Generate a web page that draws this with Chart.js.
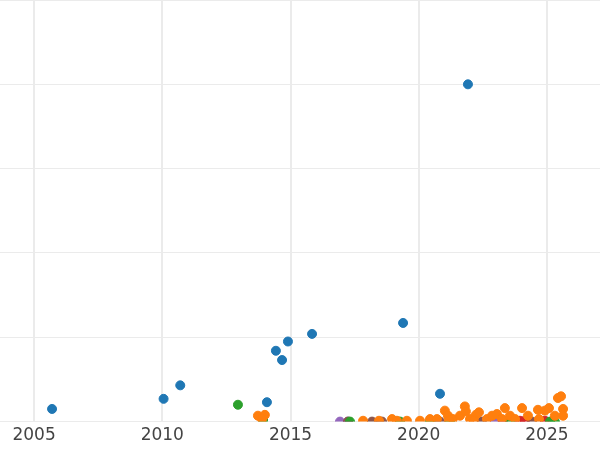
<!DOCTYPE html>
<html><head><meta charset="utf-8">
<script src="https://cdn.jsdelivr.net/npm/chart.js@4"></script>
<style>html,body{margin:0;padding:0;background:#fff}#wrap{width:600px;height:450px}</style>
</head><body><div id="wrap"><canvas id="c"></canvas></div>
<script>
// values: [year, y]
const blueSeries=[[2005.7,0.15],[2010.05,0.27],[2010.7,0.43],[2014.08,0.23],[2014.43,0.84],[2014.67,0.73],[2014.9,0.95],[2015.84,1.04],[2019.39,1.17],[2020.83,0.33],[2021.92,4.0]];
const orangeSeries=[[2013.73,0.07],[2014.0,0.08],[2013.89,0.03],[2017.83,0.01],[2018.45,0.01],[2018.96,0.03],[2019.15,0.01],[2019.54,0.01],[2020.05,0.01],[2020.44,0.03],[2020.71,0.03],[2021.02,0.13],[2021.14,0.07],[2021.33,0.03],[2021.61,0.07],[2021.8,0.18],[2021.84,0.12],[2022.0,0.03],[2022.23,0.08],[2022.35,0.11],[2022.66,0.03],[2022.86,0.07],[2023.05,0.09],[2023.25,0.03],[2023.36,0.16],[2023.56,0.07],[2023.76,0.03],[2024.03,0.16],[2024.26,0.07],[2024.65,0.14],[2024.92,0.13],[2025.08,0.16],[2025.31,0.07],[2025.43,0.28],[2025.55,0.3],[2025.63,0.15],[2025.63,0.07],[2024.69,0.03],[2022.15,0.01],[2021.18,0.01]];
const greenSeries=[[2012.95,0.2],[2013.93,0.02],[2017.32,0],[2019.27,0],[2020.44,0],[2021.22,0],[2023.56,0],[2025.31,0],[2025.12,0]];
const brownSeries=[[2018.18,0],[2018.57,0],[2020.83,0],[2022.46,0],[2024.42,0],[2017.24,0]];
const purpleSeries=[[2016.93,0],[2017.24,0],[2022.97,0]];
const redSeries=[[2023.28,0],[2023.95,0.01],[2024.14,0.01],[2024.92,0.01]];
const xTicks=[2005,2010,2015,2020,2025];

const mk=(d,c)=>({data:d.map(p=>({x:p[0],y:p[1]})),backgroundColor:c,borderColor:c,pointRadius:4.5,pointHoverRadius:4.5,clip:{left:false,right:false,top:false,bottom:0}});
new Chart(document.getElementById('c'),{type:'scatter',
  data:{datasets:[mk(orangeSeries,'#ff7f0e'),mk(greenSeries,'#2ca02c'),mk(brownSeries,'#8c564b'),mk(purpleSeries,'#9467bd'),mk(redSeries,'#d62728'),mk(blueSeries,'#1f77b4')]},
  options:{responsive:true,maintainAspectRatio:false,animation:false,layout:{padding:0,autoPadding:false},
    plugins:{legend:{display:false},tooltip:{enabled:false}},
    scales:{
      x:{type:'linear',min:2003.67,max:2027.07,
        afterBuildTicks:a=>{a.ticks=xTicks.map(v=>({value:v}));},
        grid:{color:'#ebebeb',lineWidth:2,drawTicks:false},border:{display:false},
        ticks:{color:'#444',font:{family:'DejaVu Sans',size:17},padding:4,callback:v=>String(v)}},
      y:{min:0,max:5,afterFit:a=>{a.width=0;},
        ticks:{display:false,stepSize:1},
        grid:{color:'#ebebeb',lineWidth:1,drawTicks:false},border:{display:false}}}}
});
</script></body></html>
